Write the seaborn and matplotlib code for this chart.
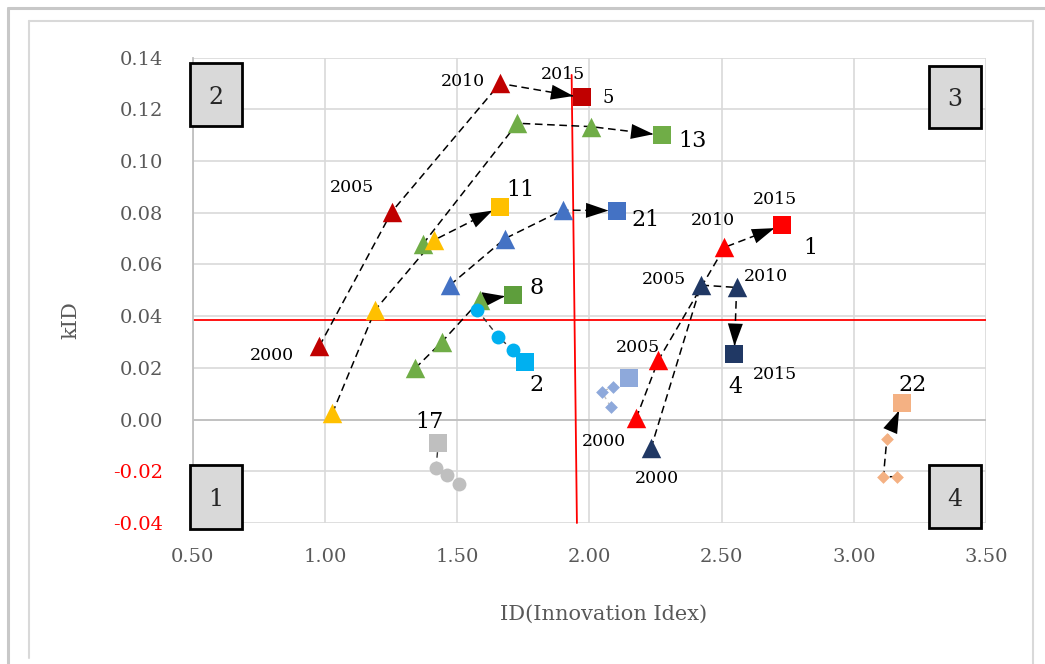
import numpy as np
import pandas as pd
import matplotlib
matplotlib.use("Agg")
import matplotlib.pyplot as plt
from matplotlib.patches import Rectangle
from matplotlib.lines import Line2D
import seaborn as sns

# ---------------- data ----------------
# each group: years 2000, 2005, 2010 (triangle / circle / diamond) and 2015 (square)
g5_x = [0.979, 1.253, 1.662, 1.971]
g5_y = [0.0284, 0.0804, 0.1300, 0.1246]
g13_x = [1.370, 1.728, 2.006, 2.274]
g13_y = [0.0678, 0.1146, 0.1133, 0.1100]
g11_x = [1.028, 1.190, 1.413, 1.662]
g11_y = [0.0024, 0.0424, 0.0694, 0.0823]
g21_x = [1.473, 1.681, 1.899, 2.104]
g21_y = [0.0520, 0.0700, 0.0810, 0.0808]
g8_x = [1.341, 1.442, 1.587, 1.713]
g8_y = [0.0198, 0.0300, 0.0462, 0.0482]
g2_x = [1.576, 1.656, 1.710, 1.757]
g2_y = [0.0424, 0.0320, 0.0269, 0.0224]
g17_x = [1.507, 1.463, 1.420, 1.429]
g17_y = [-0.0251, -0.0215, -0.0189, -0.0089]
glb_x = [2.082, 2.047, 2.091, 2.151]
glb_y = [0.0047, 0.0108, 0.0127, 0.0159]
g1_x = [2.177, 2.261, 2.511, 2.730]
g1_y = [0.0005, 0.0230, 0.0666, 0.0752]
g4_x = [2.233, 2.422, 2.557, 2.548]
g4_y = [-0.0111, 0.0520, 0.0511, 0.0252]
g22_x = [3.165, 3.112, 3.125, 3.184]
g22_y = [-0.0221, -0.0221, -0.0075, 0.0065]

x_ticks = [0.50, 1.00, 1.50, 2.00, 2.50, 3.00, 3.50]
y_ticks = [-0.04, -0.02, 0.00, 0.02, 0.04, 0.06, 0.08, 0.10, 0.12, 0.14]
x_label = "ID(Innovation Idex)"
y_label = "kID"
h_ref = 0.0385                      # horizontal red reference line
v_ref_x = [1.933, 1.953]            # slanted vertical red reference line
v_ref_y = [0.1333, -0.04]

# year labels: (text, x, y)
year_labels = [
    ("2000", 0.801, 0.0249), ("2005", 1.103, 0.0896), ("2010", 1.522, 0.1307), ("2015", 1.900, 0.1333),
    ("2000", 2.056, -0.0086), ("2005", 2.185, 0.0279), ("2010", 2.467, 0.0769), ("2015", 2.702, 0.0852),
    ("2000", 2.255, -0.0227), ("2005", 2.283, 0.0542), ("2010", 2.668, 0.0555), ("2015", 2.700, 0.0176),
]
# group labels: (text, x, y)
group_labels = [
    ("5", 2.071, 0.1243), ("13", 2.391, 0.1077), ("11", 1.738, 0.0888), ("21", 2.214, 0.0772),
    ("8", 1.801, 0.0508), ("2", 1.801, 0.0133), ("17", 1.395, -0.0008), ("22", 3.223, 0.0133),
    ("1", 2.835, 0.0662), ("4", 2.551, 0.0127),
]
quadrants = ["1", "2", "3", "4"]

# ---------------- style ----------------
sns.set_theme(style="white")
plt.rcParams['font.family'] = ['DejaVu Serif']

fig = plt.figure(figsize=(10.45, 6.64), dpi=100)
W, H = 1045, 664
ax = fig.add_axes([192.7 / W, 1 - 523 / H, (986 - 192.7) / W, (523 - 57.6) / H])

ax.set_xlim(0.5, 3.5)
ax.set_ylim(-0.04, 0.14)
ax.set_xticks(x_ticks)
ax.set_yticks(y_ticks)
ax.set_xticklabels([f"{v:.2f}" for v in x_ticks])
ax.set_yticklabels([f"{v:.2f}" for v in y_ticks])
ax.grid(True, color="#D9D9D9", linewidth=1.2)
ax.set_axisbelow(True)
for s in ["top", "right", "bottom"]:
    ax.spines[s].set_visible(False)
ax.spines["left"].set_color("#BFBFBF")
ax.spines["left"].set_linewidth(1.3)
ax.axhline(0, color="#BFBFBF", linewidth=1.3, zorder=1)
ax.tick_params(axis="both", length=0, labelsize=14, colors="#595959")
ax.tick_params(axis="y", pad=21)
ax.tick_params(axis="x", pad=18)
for lab, v in zip(ax.get_yticklabels(), y_ticks):
    if v < 0:
        lab.set_color("#FF0000")

ax.set_xlabel(x_label, fontsize=15, color="#595959")
ax.set_ylabel(y_label, fontsize=15, color="#595959")
ax.xaxis.set_label_coords(0.518, -0.176)
ax.yaxis.set_label_coords(-0.142, 0.436)

# reference lines
ax.axhline(h_ref, color="#FF0000", linewidth=1.3, zorder=2)
ax.plot(v_ref_x, v_ref_y, color="#FF0000", linewidth=1.3, zorder=2, clip_on=False)

# ---------------- groups ----------------
groups = [
    # x, y, first-marker, size, color, square color, line color, arrow
    (g5_x, g5_y, "^", 14, "#C00000", "#C00000", "black", True),
    (g13_x, g13_y, "^", 14, "#70AD47", "#70AD47", "black", True),
    (g11_x, g11_y, "^", 14, "#FFC000", "#FFC000", "black", True),
    (g21_x, g21_y, "^", 14, "#4472C4", "#4472C4", "black", True),
    (g8_x, g8_y, "^", 14, "#70AD47", "#5E9E3C", "black", True),
    (g2_x, g2_y, "o", 10, "#00B0F0", "#00B0F0", "#333333", False),
    (g17_x, g17_y, "o", 10, "#BFBFBF", "#BFBFBF", "#333333", False),
    (glb_x, glb_y, "D", 6.5, "#8EA9DB", "#8EA9DB", "#BFBFBF", False),
    (g1_x, g1_y, "^", 14, "#FF0000", "#FF0000", "black", True),
    (g4_x, g4_y, "^", 14, "#203864", "#203864", "black", True),
    (g22_x, g22_y, "D", 6.5, "#F4B183", "#F4B183", "black", True),
]

for gx, gy, mk, ms, col, sqcol, lcol, arrow in groups:
    if arrow:
        # dashed path through all points, then a filled head (no shaft) on the last segment
        ax.plot(gx, gy, linestyle=(0, (5, 3)), color=lcol, linewidth=1.1, zorder=2)
        ax.annotate("", xy=(gx[3], gy[3]), xytext=(gx[2], gy[2]),
                    arrowprops=dict(arrowstyle="-|>,head_length=1.35,head_width=0.45",
                                    facecolor="black", edgecolor="none", linewidth=0,
                                    shrinkA=4, shrinkB=6),
                    zorder=3)
    else:
        ax.plot(gx, gy, linestyle=(0, (4, 3)), color=lcol, linewidth=1.0, zorder=2)
    sns.scatterplot(x=gx[:3], y=gy[:3], marker=mk, s=ms ** 2, color=col,
                    linewidth=0, ax=ax, zorder=4, legend=False)
    sns.scatterplot(x=[gx[3]], y=[gy[3]], marker="s", s=13.5 ** 2, color=sqcol,
                    linewidth=0, ax=ax, zorder=4, legend=False)

for t, x, y in year_labels:
    ax.text(x, y, t, fontsize=12.5, ha="center", va="center", color="black", zorder=5)
for t, x, y in group_labels:
    ax.text(x, y, t, fontsize=13 if t == "5" else 16, ha="center", va="center",
            color="black", zorder=5)

# quadrant boxes (pixel boxes converted to axes data)
def px2x(p):
    return 0.5 + (p - 192.7) / 264.4

def py2y(p):
    return 0.14 - (p - 57.6) / 2585.0

boxes = {"2": (190, 242, 63, 126), "3": (929, 981, 66, 128),
         "1": (190, 242, 465, 529), "4": (929, 981, 465, 528)}
for q in quadrants:
    x0, x1, y0, y1 = boxes[q]
    ax.add_patch(Rectangle((px2x(x0), py2y(y1)), px2x(x1) - px2x(x0), py2y(y0) - py2y(y1),
                           facecolor="#D9D9D9", edgecolor="black", linewidth=2,
                           zorder=6, clip_on=False))
    ax.text((px2x(x0) + px2x(x1)) / 2, (py2y(y0) + py2y(y1)) / 2 - 0.001, q,
            fontsize=17, ha="center", va="center", zorder=7)

# frames
def fl(xs, ys, c, lw):
    fig.add_artist(Line2D([v / W for v in xs], [1 - v / H for v in ys],
                          color=c, linewidth=lw, transform=fig.transFigure))

fl([8, 8], [8, 664], "#C8C8C8", 2.2)
fl([8, 1045], [8, 8], "#C8C8C8", 2.2)
fl([29, 29], [21, 658], "#D9D9D9", 1.5)
fl([29, 1033], [21, 21], "#D9D9D9", 1.5)
fl([1033, 1033], [21, 664], "#D9D9D9", 1.5)

fig.savefig("out.png", dpi=100)
